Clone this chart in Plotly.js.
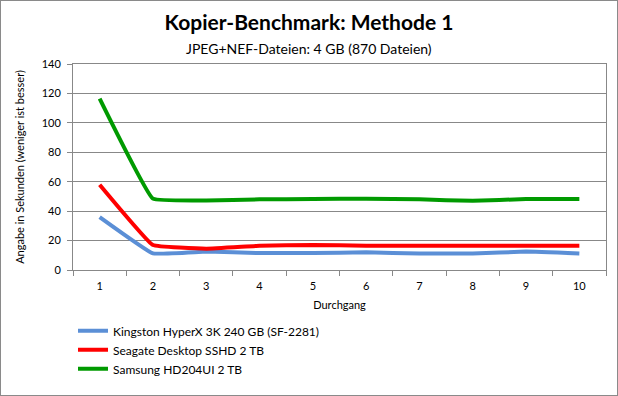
<!DOCTYPE html>
<html><head><meta charset="utf-8">
<script src="https://cdn.plot.ly/plotly-3.0.1.min.js"></script>
<style>html,body{margin:0;padding:0;background:#fff}#c{width:616px;height:394px;border:1px solid #8a8a8a}</style>
</head><body><div id="c"></div>
<script>
const runs = ['1','2','3','4','5','6','7','8','9','10'];
const kingston = [36, 11.3, 12.5, 11.5, 11.5, 12, 11.2, 11.2, 12.5, 11.2];
const seagate = [58, 17, 14.5, 16.5, 17, 16.5, 16.5, 16.5, 16.5, 16.5];
const samsung = [116.5, 48.5, 47.3, 48, 48.2, 48.5, 48, 47, 48.2, 48.2];
const names = ['Kingston HyperX 3K 240 GB (SF-2281)', 'Seagate Desktop SSHD 2 TB', 'Samsung HD204UI 2 TB'];
const yTicks = [0,20,40,60,80,100,120,140];

const font = 'Lato, "Open Sans", sans-serif';
const mk = (y, name, color) => ({x: runs, y: y, name: name, type: 'scatter', mode: 'lines',
  line: {color: color, width: 4, shape: 'spline', smoothing: 0.25}});
const data = [mk(kingston, names[0], '#5b8fd6'), mk(seagate, names[1], '#ff0000'), mk(samsung, names[2], '#009a00')];
const layout = {
  width: 616, height: 394,
  margin: {l: 72, r: 11, t: 63, b: 125, autoexpand: false},
  paper_bgcolor: '#fff', plot_bgcolor: 'rgba(0,0,0,0)',
  font: {family: font, size: 11, color: '#000'},
  title: {text: '<b>Kopier-Benchmark: Methode 1</b>', x: 0.5, xref: 'container', y: 0.945, yref: 'container', yanchor: 'middle', font: {family: font, size: 21, color: '#000'}},
  annotations: [{text: 'JPEG+NEF-Dateien: 4 GB (870 Dateien)', xref: 'paper', yref: 'paper', x: (308 - 72) / 533, y: (269 - 47) / 206, xanchor: 'center', yanchor: 'middle', showarrow: false, font: {family: font, size: 14, color: '#000'}}],
  xaxis: {type: 'category', range: [-0.5, 9.5], tickson: 'boundaries', ticks: 'outside', ticklen: 5, tickcolor: '#888',
    showline: true, linecolor: '#888', linewidth: 1, mirror: true, showgrid: false, automargin: false, ticklabelstandoff: 6,
    tickfont: {family: font, size: 11}, title: {text: 'Durchgang', font: {family: font, size: 11}, standoff: 10}},
  yaxis: {range: [0, 140], tickvals: yTicks, ticks: 'outside', ticklen: 5, tickcolor: '#888', automargin: false, ticklabelstandoff: 4,
    showline: true, linecolor: '#888', linewidth: 1, mirror: true, gridcolor: '#888', gridwidth: 1, zeroline: false,
    tickfont: {family: font, size: 11}, title: {text: 'Angabe in Sekunden (weniger ist besser)', font: {family: font, size: 11}, standoff: 14}},
  legend: {x: 0, xanchor: 'left', y: -0.225, yanchor: 'top', orientation: 'v', font: {family: font, size: 12}, bgcolor: 'rgba(0,0,0,0)', tracegroupgap: 0, itemwidth: 30},
  showlegend: true
};
Plotly.newPlot('c', data, layout, {displayModeBar: false, staticPlot: true});
</script></body></html>
